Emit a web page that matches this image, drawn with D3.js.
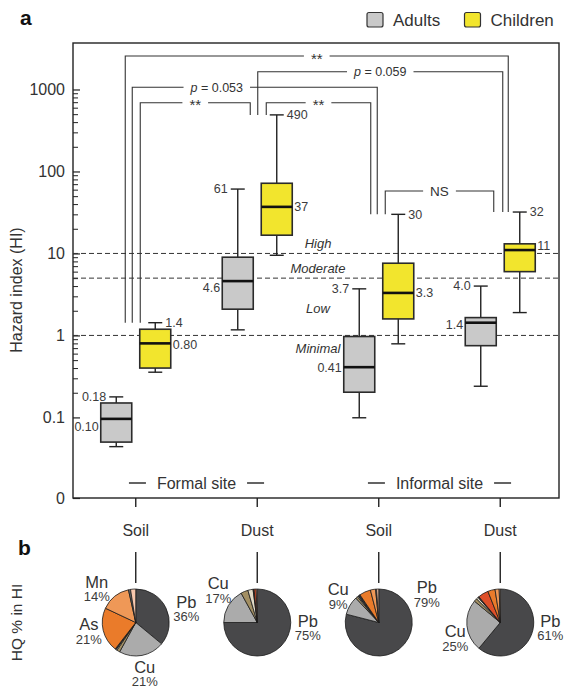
<!DOCTYPE html>
<html>
<head>
<meta charset="utf-8">
<script src="https://cdn.jsdelivr.net/npm/d3@7"></script>
<style>
body { margin: 0; background: #fff; }
svg { display: block; font-family: "Liberation Sans", Arial, sans-serif; }
</style>
</head>
<body>
<svg id="chart" width="566" height="688"></svg>
<script>
// ---- data ----
const media = ["Soil", "Dust", "Soil", "Dust"];
const sites = ["Formal site", "Informal site"];
const riskLevels = ["High", "Moderate", "Low", "Minimal"];
const riskThresholds = [10, 5, 1];

const adultsLow = [0.044, 1.17, 0.099, 0.24];
const adultsQ1 = [0.050, 2.09, 0.203, 0.75];
const adultsMedian = [0.096, 4.6, 0.41, 1.43];
const adultsQ3 = [0.150, 9.0, 0.97, 1.65];
const adultsHigh = [0.178, 61, 3.7, 4.0];
const adultsHighText = ["0.18", "61", "3.7", "4.0"];
const adultsMedianText = ["0.10", "4.6", "0.41", "1.4"];

const childrenLow = [0.356, 9.5, 0.79, 1.9];
const childrenQ1 = [0.40, 16.7, 1.59, 6.0];
const childrenMedian = [0.80, 37, 3.3, 11];
const childrenQ3 = [1.19, 71.8, 7.6, 13.1];
const childrenHigh = [1.43, 490, 30, 32];
const childrenHighText = ["1.4", "490", "30", "32"];
const childrenMedianText = ["0.80", "37", "3.3", "11"];

// comparisons between children groups (index pairs)
const comparisonFrom = [0, 1, 0, 0, 1, 2];
const comparisonTo = [3, 3, 2, 1, 2, 3];
const comparisonText = ["**", "p = 0.059", "p = 0.053", "**", "**", "NS"];

// HQ share (%) of each element in HI, per group
const hqElements = ["Pb", "Cu", "other1", "other2", "other3", "other4", "As", "Mn", "other5", "other6"];
const formalSoilHQ = [36, 22, 1.5, 0.5, 0.5, 0, 21.5, 14.5, 1, 2.5];
const formalDustHQ = [75, 17, 3.5, 2.5, 0.5, 1, 0, 0, 0, 0.5];
const informalSoilHQ = [79, 9, 1, 0.5, 1, 0, 5.5, 2.5, 0.5, 1];
const informalDustHQ = [61, 25, 1.5, 1, 0.5, 5, 3.5, 2, 0, 0.5];
const pieLabelNames = [["Mn", "As", "Pb", "Cu"], ["Cu", "Pb"], ["Cu", "Pb"], ["Cu", "Pb"]];
const pieLabelPcts = [["14%", "21%", "36%", "21%"], ["17%", "75%"], ["9%", "79%"], ["25%", "61%"]];

// ---- layout ----
const svg = d3.select("#chart");
const frame = {left: 73, right: 559, top: 43, bottom: 498};
const ink = "#222";
const txt = "#333";

const y = d3.scaleLog().domain([0.0104, 3690]).range([frame.bottom, frame.top]);
const x = d3.scaleBand().domain(d3.range(media.length)).range([75, 561]);
const cx = i => x(i) + x.bandwidth() / 2;
const half = 19.5, boxW = 31, capW = 14;

// panel letters
svg.append("text").attr("x", 20).attr("y", 25).attr("font-size", 21).attr("font-weight", "bold").attr("fill", "#111").text("a");
svg.append("text").attr("x", 18).attr("y", 555).attr("font-size", 21).attr("font-weight", "bold").attr("fill", "#111").text("b");

// legend
const series = [
    {name: "Adults", fill: "#c9c9c9", side: -1, low: adultsLow, q1: adultsQ1, med: adultsMedian, q3: adultsQ3, high: adultsHigh,
        highText: adultsHighText, medText: adultsMedianText, medNudge: [8, 7, 0, 1.5]},
    {name: "Children", fill: "#f2e52d", side: 1, low: childrenLow, q1: childrenQ1, med: childrenMedian, q3: childrenQ3, high: childrenHigh,
        highText: childrenHighText, medText: childrenMedianText, medNudge: [1.5, 0, 0, -4]}
];
const legendX = [367, 464.5];
series.forEach((s, k) => {
    svg.append("rect").attr("x", legendX[k]).attr("y", 12.5).attr("width", 16).attr("height", 14.5).attr("rx", 2)
        .attr("fill", s.fill).attr("stroke", "#333").attr("stroke-width", 1.2);
    svg.append("text").attr("x", legendX[k] + 26).attr("y", 26).attr("font-size", 17).attr("fill", txt).text(s.name);
});

// frame
svg.append("rect").attr("x", frame.left).attr("y", frame.top)
    .attr("width", frame.right - frame.left).attr("height", frame.bottom - frame.top)
    .attr("fill", "none").attr("stroke", ink).attr("stroke-width", 1.4);

// y axis
const majors = [0.1, 1, 10, 100, 1000];
const minors = [];
[0.1, 1, 10, 100].forEach(b => d3.range(2, 10).forEach(m => minors.push(b * m)));

const yAxis = svg.append("g").attr("transform", `translate(${frame.left},0)`)
    .call(d3.axisLeft(y).tickValues([y.domain()[0]].concat(majors)).tickSize(-7).tickPadding(8)
        .tickFormat(d => d === y.domain()[0] ? "0" : d3.format("~g")(d)));
yAxis.select(".domain").remove();
yAxis.selectAll("line").attr("stroke", ink).attr("stroke-width", 1.2);
yAxis.selectAll("text").attr("font-size", 16).attr("fill", txt).attr("font-family", null);

const yMinor = svg.append("g").attr("transform", `translate(${frame.left},0)`)
    .call(d3.axisLeft(y).tickValues(minors).tickSize(-5).tickFormat(""));
yMinor.select(".domain").remove();
yMinor.selectAll("line").attr("stroke", ink).attr("stroke-width", 1);

svg.append("text").attr("transform", `translate(22,290) rotate(-90)`).attr("text-anchor", "middle")
    .attr("font-size", 16).attr("fill", txt).text("Hazard index (HI)");

// x axis
const xAxis = svg.append("g").attr("transform", `translate(0,${frame.bottom})`)
    .call(d3.axisBottom(x).tickSize(9).tickPadding(18).tickFormat(i => media[i]));
xAxis.select(".domain").remove();
xAxis.selectAll("line").attr("stroke", ink).attr("stroke-width", 1.4);
xAxis.selectAll("text").attr("font-size", 16).attr("fill", txt).attr("font-family", null);

// risk thresholds
riskThresholds.forEach(t => {
    svg.append("line").attr("x1", frame.left).attr("x2", frame.right).attr("y1", y(t)).attr("y2", y(t))
        .attr("stroke", "#333").attr("stroke-width", 1).attr("stroke-dasharray", "5,3");
});
const riskX = (cx(1) + cx(2)) / 2;
const riskY = [y(10) - 5, y(5) - 5, y(Math.sqrt(5)) + 6, y(1) + 18];
riskLevels.forEach((r, i) => {
    svg.append("text").attr("x", riskX).attr("y", riskY[i]).attr("text-anchor", "middle")
        .attr("font-size", 13).attr("font-style", "italic").attr("fill", txt).text(r);
});

// site labels
sites.forEach((s, k) => {
    const mid = (cx(2 * k) + cx(2 * k + 1)) / 2;
    const t = svg.append("text").attr("x", mid).attr("y", 489).attr("text-anchor", "middle")
        .attr("font-size", 16).attr("fill", txt).text(s);
    const w = t.node().getComputedTextLength();
    [[mid - w / 2 - 11 - 17, mid - w / 2 - 11], [mid + w / 2 + 11, mid + w / 2 + 11 + 17]].forEach(([a, b]) => {
        svg.append("line").attr("x1", a).attr("x2", b).attr("y1", 483).attr("y2", 483)
            .attr("stroke", ink).attr("stroke-width", 1.4);
    });
});

// significance brackets (drawn before boxes)
const legOffset = [[-30, -11.5], [-19, -17], [-23, -21], [-15, -26.5], [-10.5, -27.5], [-13, -26]];
const levelY = [56, 71.7, 87.3, 102.7, 102.7, y(childrenHigh[3]) - 21];
const labelAt = [0.5, 0.5, 0.345, 0.5, 0.5, 0.5];
const brackets = svg.append("g");
comparisonText.forEach((label, k) => {
    const a = comparisonFrom[k], b = comparisonTo[k];
    const xa = cx(a) + half + legOffset[k][0];
    const xb = cx(b) + half + legOffset[k][1];
    const ly = levelY[k];
    brackets.append("path")
        .attr("d", `M${xa},${y(childrenHigh[a])}V${ly}H${xb}V${y(childrenHigh[b])}`)
        .attr("fill", "none").attr("stroke", "#333").attr("stroke-width", 1.1);
    const tx = xa + (xb - xa) * labelAt[k];
    const isStar = label === "**";
    const bg = brackets.append("rect").attr("fill", "#fff");
    const t = brackets.append("text").attr("x", tx).attr("y", ly + (isStar ? 7.5 : 4.5)).attr("text-anchor", "middle")
        .attr("font-size", isStar ? 15 : (label === "NS" ? 13.5 : 12.5)).attr("fill", txt);
    if (label.startsWith("p")) {
        t.append("tspan").attr("font-style", "italic").text("p");
        t.append("tspan").text(label.slice(1));
    } else {
        t.text(label);
    }
    const w = t.node().getComputedTextLength();
    bg.attr("x", tx - w / 2 - 7).attr("y", ly - 3).attr("width", w + 14).attr("height", 6);
});

// box plots
series.forEach(s => {
    const g = svg.append("g");
    media.forEach((m, i) => {
        const c = cx(i) + s.side * half;
        g.append("line").attr("x1", c).attr("x2", c).attr("y1", y(s.low[i])).attr("y2", y(s.high[i]))
            .attr("stroke", ink).attr("stroke-width", 1.4);
        [s.low[i], s.high[i]].forEach(v => {
            g.append("line").attr("x1", c - capW / 2).attr("x2", c + capW / 2).attr("y1", y(v)).attr("y2", y(v))
                .attr("stroke", ink).attr("stroke-width", 1.4);
        });
        g.append("rect").attr("x", c - boxW / 2).attr("y", y(s.q3[i]))
            .attr("width", boxW).attr("height", y(s.q1[i]) - y(s.q3[i]))
            .attr("fill", s.fill).attr("stroke", "#2b2b2b").attr("stroke-width", 1.6);
        g.append("line").attr("x1", c - boxW / 2).attr("x2", c + boxW / 2).attr("y1", y(s.med[i])).attr("y2", y(s.med[i]))
            .attr("stroke", "#111").attr("stroke-width", 2.6);

        const anchor = s.side < 0 ? "end" : "start";
        g.append("text").attr("x", c + s.side * (capW / 2 + 3)).attr("y", y(s.high[i])).attr("dy", "0.35em")
            .attr("text-anchor", anchor).attr("font-size", 12.5).attr("fill", "#3c3c3c").text(s.highText[i]);
        g.append("text").attr("x", c + s.side * (boxW / 2 + 2)).attr("y", y(s.med[i]) + s.medNudge[i]).attr("dy", "0.35em")
            .attr("text-anchor", anchor).attr("font-size", 12.5).attr("fill", "#3c3c3c").text(s.medText[i]);
    });
});

// panel b
svg.append("text").attr("transform", `translate(22,622.5) rotate(-90)`).attr("text-anchor", "middle")
    .attr("font-size", 15.5).attr("fill", txt).text("HQ % in HI");

const pieColors = ["#48484a", "#ababab", "#a38f63", "#e2dac6", "#2f2f2f", "#df4f28", "#ea7b2a", "#ef9857", "#6b6b6b", "#f7c7ad"];
const color = d3.scaleOrdinal().domain(hqElements).range(pieColors);
const pieSets = [formalSoilHQ, formalDustHQ, informalSoilHQ, informalDustHQ];
const pieY = 622.5, pieR = 33.5;
const pie = d3.pie().sort(null).value(d => d.v);
const arc = d3.arc().innerRadius(0).outerRadius(pieR);
const pieLabelOffset = [
    [[-39, -34], [-47, 8.5], [50.5, -14], [9, 51]],
    [[-39, -32.5], [50.5, 5]],
    [[-40.5, -26.5], [48, -28.5]],
    [[-45, 15.5], [50, 5]]
];

pieSets.forEach((vals, i) => {
    const px = cx(i);
    svg.append("line").attr("x1", px).attr("x2", px).attr("y1", 552).attr("y2", 583)
        .attr("stroke", ink).attr("stroke-width", 1.4);
    const g = svg.append("g").attr("transform", `translate(${px},${pieY})`);
    const d = hqElements.map((e, j) => ({e: e, v: vals[j]})).filter(o => o.v > 0);
    g.selectAll("path").data(pie(d)).enter().append("path")
        .attr("d", arc).attr("fill", p => color(p.data.e))
        .attr("stroke", "#1c1c1c").attr("stroke-width", 0.8).attr("stroke-linejoin", "round");
    pieLabelNames[i].forEach((n, j) => {
        const [dx, dy] = pieLabelOffset[i][j];
        g.append("text").attr("x", dx).attr("y", dy - 1).attr("text-anchor", "middle")
            .attr("font-size", 16.5).attr("fill", txt).text(n);
        g.append("text").attr("x", dx).attr("y", dy + 12.5).attr("text-anchor", "middle")
            .attr("font-size", 13).attr("fill", "#3c3c3c").text(pieLabelPcts[i][j]);
    });
});
</script>
</body>
</html>
